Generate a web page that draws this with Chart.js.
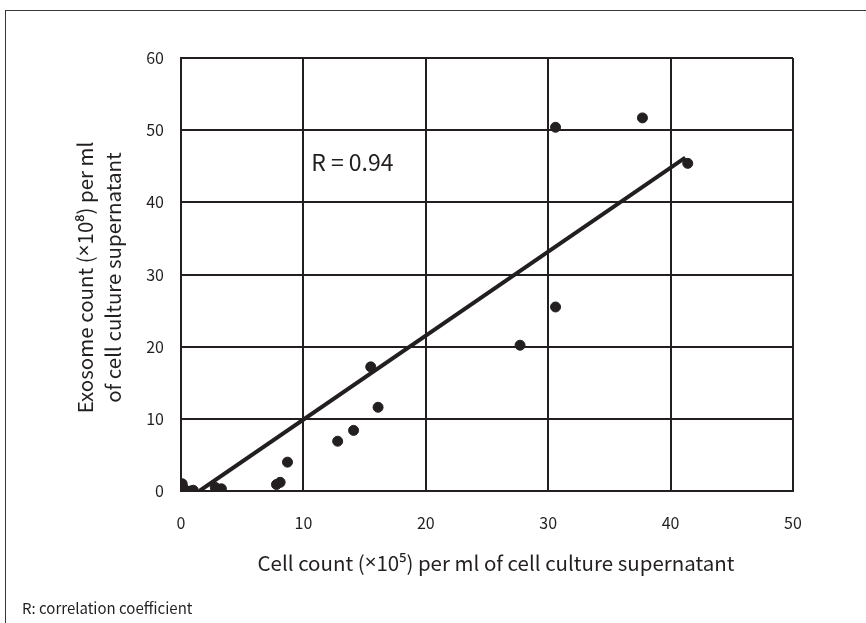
<!DOCTYPE html>
<html>
<head>
<meta charset="utf-8">
<script src="https://cdn.jsdelivr.net/npm/chart.js@4"></script>
<style>
  html, body { margin: 0; padding: 0; background: #fff; }
  #wrap { position: relative; width: 866px; height: 623px; overflow: hidden; }
  #frame { position: absolute; left: 5px; top: 10px; width: 900px; height: 700px;
           border-left: 1px solid #3a3536; border-top: 1px solid #3a3536; }
  #note { position: absolute; left: 22px; top: 597px; font: 15px "Noto Sans CJK KR", "Noto Sans", sans-serif; color: #231f20; }
  canvas { position: absolute; left: 0; top: 0; }
</style>
</head>
<body>
<div id="wrap">
  <div id="frame"></div>
  <canvas id="c" width="866" height="623"></canvas>
  <div id="note">R: correlation coefficient</div>
</div>
<script>
'use strict';

// 세포 수 (×10^5) / 엑소좀 수 (×10^8)
const cellCounts = [0.1, 0.2, 0.4, 0.8, 1.0, 2.8, 3.3, 7.8, 8.1, 8.7, 12.8, 14.1, 15.5, 16.1, 27.7, 30.6, 30.6, 37.7, 41.4];
const exosomeCounts = [1.0, 0.4, 0.0, 0.0, 0.1, 0.5, 0.3, 0.9, 1.2, 4.0, 6.9, 8.4, 17.2, 11.6, 20.2, 25.5, 50.4, 51.7, 45.4];

// 회귀 직선 끝점
const fitX = [1.5, 41.2];
const fitY = [0, 46.2];

const xTicks = [0, 10, 20, 30, 40, 50];
const yTicks = [0, 10, 20, 30, 40, 50, 60];

const xTitle = 'Cell count (×10⁵) per ml of cell culture supernatant';
const yTitle = ['Exosome count (×10⁸) per ml', 'of cell culture supernatant'];
const rText = 'R = 0.94';

const INK = '#231f20';
const FONT = "'Noto Sans CJK KR', 'Noto Sans', sans-serif";
const NARROW = "'Noto Sans', sans-serif";

Chart.defaults.font.family = FONT;
Chart.defaults.color = INK;

// × 기호만 좁은 글꼴로 그리기
function drawMixed(ctx, text, cx, cy, size) {
  const parts = text.split(/(×)/).filter(p => p.length);
  const fonts = parts.map(p => (p === '×' ? `${size}px ${NARROW}` : `${size}px ${FONT}`));
  let total = 0;
  const widths = parts.map((p, i) => {
    ctx.font = fonts[i];
    const w = ctx.measureText(p).width;
    total += w;
    return w;
  });
  let x = cx - total / 2;
  parts.forEach((p, i) => {
    ctx.font = fonts[i];
    ctx.fillText(p, x, cy);
    x += widths[i];
  });
}

const titlesPlugin = {
  id: 'titles',
  afterDraw(chart) {
    const { ctx, scales, chartArea } = chart;
    ctx.save();
    ctx.fillStyle = INK;
    ctx.textAlign = 'left';
    ctx.textBaseline = 'middle';

    // x 축 제목
    drawMixed(ctx, xTitle, (chartArea.left + chartArea.right) / 2 + 9, chartArea.bottom + 72, 20.5);

    // y 축 제목 (두 줄, 회전)
    const cy = (chartArea.top + chartArea.bottom) / 2 + 3;
    ctx.translate(99, cy);
    ctx.rotate(-Math.PI / 2);
    drawMixed(ctx, yTitle[0], 0, -14, 20.5);
    drawMixed(ctx, yTitle[1], 0, 14, 20.5);
    ctx.restore();

    // R 값
    ctx.save();
    ctx.fillStyle = INK;
    ctx.font = `23px ${FONT}`;
    ctx.textAlign = 'center';
    ctx.textBaseline = 'middle';
    ctx.fillText(rText, scales.x.getPixelForValue(14), scales.y.getPixelForValue(45.6));
    ctx.restore();
  }
};

const points = cellCounts.map((x, i) => ({ x, y: exosomeCounts[i] }));
const fitLine = fitX.map((x, i) => ({ x, y: fitY[i] }));

new Chart(document.getElementById('c'), {
  type: 'scatter',
  plugins: [titlesPlugin],
  data: {
    datasets: [
      {
        label: 'samples',
        data: points,
        backgroundColor: INK,
        borderColor: INK,
        pointRadius: 5,
        order: 2,
      },
      {
        label: 'fit',
        type: 'line',
        data: fitLine,
        borderColor: INK,
        borderWidth: 4,
        pointRadius: 0,
        fill: false,
        order: 1,
      },
    ],
  },
  options: {
    responsive: false,
    animation: false,
    layout: { padding: { left: 0, top: 58, right: 73, bottom: 40 } },
    plugins: { legend: { display: false }, tooltip: { enabled: false } },
    scales: {
      x: {
        type: 'linear',
        min: 0,
        max: 50,
        afterBuildTicks: s => { s.ticks = xTicks.map(v => ({ value: v })); },
        afterFit: s => { s.height = 92; },
        ticks: { padding: 22, font: { size: 16 }, color: INK },
        grid: { color: INK, lineWidth: 2, drawTicks: false },
        border: { color: INK, width: 2 },
      },
      y: {
        type: 'linear',
        min: 0,
        max: 60,
        afterBuildTicks: s => { s.ticks = yTicks.map(v => ({ value: v })); },
        afterFit: s => { s.width = 181; },
        ticks: { padding: 17, font: { size: 16 }, color: INK },
        grid: { color: INK, lineWidth: 2, drawTicks: false },
        border: { color: INK, width: 2 },
      },
    },
  },
});
</script>
</body>
</html>
